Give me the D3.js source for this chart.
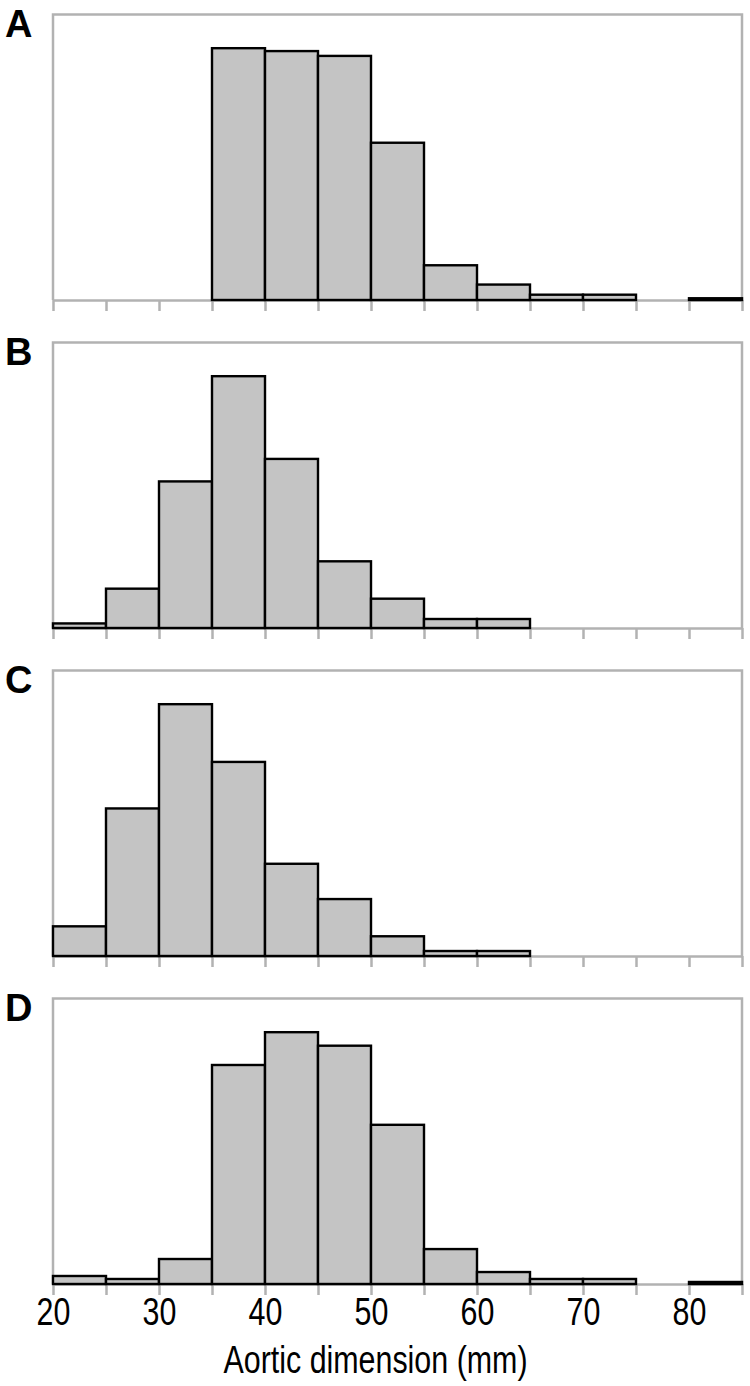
<!DOCTYPE html>
<html>
<head>
<meta charset="utf-8">
<script src="https://cdn.jsdelivr.net/npm/d3@7/dist/d3.min.js"></script>
<style>
  html, body { margin: 0; padding: 0; background: #fff; }
  svg { display: block; }
</style>
</head>
<body>
<svg id="chart" width="750" height="1386"></svg>
<script>
// ---- Data (relative frequency, %, per 5-mm bin) ----
const binStarts = [20, 25, 30, 35, 40, 45, 50, 55, 60, 65, 70, 75, 80];
const binWidth = 5;
const panelLabels = ["A", "B", "C", "D"];
const valuesA = [0, 0, 0, 26.1, 25.8, 25.3, 16.3, 3.6, 1.6, 0.55, 0.55, 0, 0.18];
const valuesB = [0.63, 5.42, 20.2, 34.7, 23.3, 9.19, 4.04, 1.24, 1.24, 0, 0, 0, 0];
const valuesC = [3.7, 18.4, 31.4, 24.2, 11.5, 7.1, 2.46, 0.62, 0.62, 0, 0, 0, 0];
const valuesD = [0.83, 0.52, 2.59, 22.7, 26.1, 24.7, 16.5, 3.62, 1.24, 0.52, 0.52, 0, 0.21];
const tickValues = [20, 25, 30, 35, 40, 45, 50, 55, 60, 65, 70, 75, 80, 85];
const tickLabels = ["20", "", "30", "", "40", "", "50", "", "60", "", "70", "", "80", ""];
const xDomain = [20, 85];
const xTitle = "Aortic dimension (mm)";

const series = [valuesA, valuesB, valuesC, valuesD];

// ---- Layout ----
const svg = d3.select("#chart");
const left = 53, right = 742;
const firstTop = 14.5, panelStep = 328, panelH = 285.5;
const frameColor = "#b2b2b2";
const font = "'Liberation Sans', Arial, sans-serif";
const squeeze = 0.8;

const x = d3.scaleLinear().domain(xDomain).range([left, right]);

series.forEach((vals, i) => {
  const top = firstTop + i * panelStep;
  const bottom = top + panelH;
  const y = d3.scaleLinear()
    .domain([0, d3.max(vals) / 0.882])
    .range([bottom, top]);

  const g = svg.append("g");

  // frame (left, top, right)
  g.append("path")
    .attr("d", `M${left},${bottom} V${top} H${right} V${bottom}`)
    .attr("fill", "none")
    .attr("stroke", frameColor)
    .attr("stroke-width", 2.5);

  // bottom axis with ticks
  const axis = d3.axisBottom(x)
    .tickValues(tickValues)
    .tickSize(11)
    .tickSizeOuter(0)
    .tickFormat((d, k) => i === series.length - 1 ? tickLabels[k] : "");
  const ag = g.append("g")
    .attr("transform", `translate(0,${bottom})`)
    .call(axis);
  ag.select(".domain").attr("stroke", frameColor).attr("stroke-width", 2.5);
  ag.selectAll(".tick line").attr("stroke", frameColor).attr("stroke-width", 2.5);
  ag.selectAll(".tick text")
    .attr("fill", "#000")
    .attr("font-family", font)
    .attr("font-size", 38)
    .attr("dy", null)
    .attr("y", 41)
    .attr("transform", `scale(${squeeze},1)`);

  // bars
  const data = binStarts.map((s, k) => ({ s, v: vals[k] })).filter(d => d.v > 0);
  g.selectAll("rect.bar")
    .data(data)
    .join("rect")
    .attr("class", "bar")
    .attr("x", d => x(d.s))
    .attr("width", d => x(d.s + binWidth) - x(d.s))
    .attr("y", d => y(d.v))
    .attr("height", d => y(0) - y(d.v))
    .attr("fill", "#c4c4c4")
    .attr("stroke", "#000")
    .attr("stroke-width", 2.4);

  // panel letter
  g.append("text")
    .attr("x", 5)
    .attr("y", top + 22.5)
    .attr("font-family", font)
    .attr("font-weight", "bold")
    .attr("font-size", 38)
    .attr("fill", "#000")
    .text(panelLabels[i]);
});

// x-axis title
svg.append("text")
  .attr("transform", `translate(${(left + right) / 2 - 22},1373) scale(${squeeze},1)`)
  .attr("text-anchor", "middle")
  .attr("font-family", font)
  .attr("font-size", 38)
  .attr("fill", "#000")
  .text(xTitle);
</script>
</body>
</html>
